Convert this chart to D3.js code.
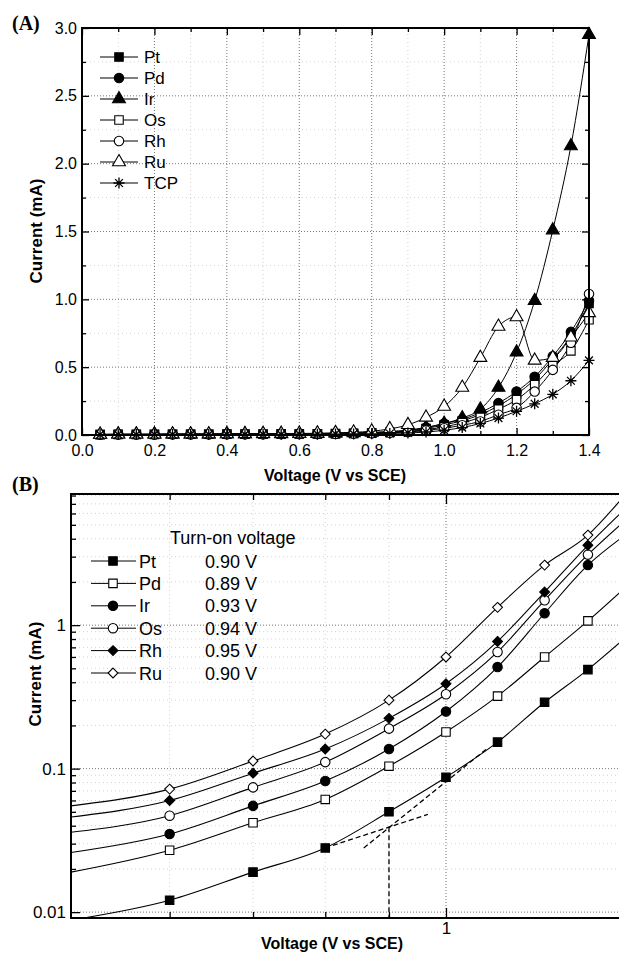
<!DOCTYPE html>
<html>
<head>
<meta charset="utf-8">
<script src="https://cdn.jsdelivr.net/npm/d3@7"></script>
<style>
  body { margin: 0; background: #fff; }
  svg { display: block; font-family: "Liberation Sans", Arial, sans-serif; }
  .grid-major line { stroke: #777; stroke-dasharray: 1,2; }
  .grid-minor line { stroke: #d2d2d2; stroke-dasharray: 1,3; }
  .axis path { display: none; }
  .axis line { stroke: #000; stroke-width: 1.3; }
</style>
</head>
<body>
<script>

// ---- panel A data (linear) ----
var voltA = [0.05, 0.10, 0.15, 0.20, 0.25, 0.30, 0.35, 0.40, 0.45, 0.50, 0.55, 0.60, 0.65, 0.70,
             0.75, 0.80, 0.85, 0.90, 0.95, 1.00, 1.05, 1.10, 1.15, 1.20, 1.25, 1.30, 1.35, 1.40];
var ptA  = [0.004,0.005,0.005,0.005,0.006,0.006,0.006,0.007,0.007,0.007,0.008,0.008,0.009,0.010,0.012,0.015,0.020,0.030,0.048,0.075,0.105,0.150,0.215,0.300,0.410,0.560,0.730,0.970];
var pdA  = [0.004,0.005,0.005,0.005,0.006,0.006,0.006,0.007,0.007,0.008,0.008,0.009,0.010,0.012,0.014,0.018,0.024,0.035,0.055,0.085,0.115,0.165,0.235,0.320,0.430,0.580,0.760,0.990];
var irA  = [0.004,0.005,0.005,0.005,0.006,0.006,0.006,0.007,0.007,0.008,0.008,0.009,0.010,0.012,0.014,0.018,0.025,0.035,0.055,0.085,0.125,0.190,0.350,0.610,0.990,1.510,2.130,2.950];
var osA  = [0.003,0.004,0.004,0.004,0.005,0.005,0.005,0.006,0.006,0.006,0.007,0.007,0.008,0.009,0.011,0.014,0.018,0.026,0.040,0.060,0.090,0.130,0.190,0.260,0.370,0.510,0.620,0.850];
var rhA  = [0.003,0.004,0.004,0.004,0.005,0.005,0.005,0.006,0.006,0.006,0.007,0.007,0.008,0.009,0.010,0.012,0.016,0.022,0.033,0.050,0.072,0.100,0.150,0.200,0.320,0.480,0.680,1.040];
var ruA  = [0.004,0.005,0.005,0.005,0.006,0.006,0.006,0.007,0.008,0.009,0.010,0.011,0.013,0.016,0.020,0.028,0.045,0.075,0.130,0.210,0.350,0.570,0.800,0.870,0.550,0.570,0.720,0.900];
var tcpA = [0.003,0.003,0.003,0.004,0.004,0.004,0.004,0.005,0.005,0.005,0.005,0.006,0.006,0.007,0.008,0.009,0.011,0.015,0.022,0.035,0.055,0.085,0.125,0.175,0.230,0.300,0.400,0.550];

var namesA   = ["Pt", "Pd", "Ir", "Os", "Rh", "Ru", "TCP"];
var markersA = ["squareF", "circleF", "triangleF", "squareO", "circleO", "triangleO", "star"];
var valuesA  = [ptA, pdA, irA, osA, rhA, ruA, tcpA];
var xTicksA  = [0.0, 0.2, 0.4, 0.6, 0.8, 1.0, 1.2, 1.4];
var yTicksA  = [0.0, 0.5, 1.0, 1.5, 2.0, 2.5, 3.0];

// ---- panel B data (log-log) ----
var voltB = [0.5, 0.6, 0.7, 0.8, 0.9, 1.0, 1.1, 1.2, 1.3, 1.38];
var ptB = [0.0088, 0.0121, 0.019, 0.028, 0.050, 0.087, 0.153, 0.29, 0.49, 0.76];
var pdB = [0.019, 0.027, 0.042, 0.061, 0.104, 0.18, 0.32, 0.60, 1.07, 1.7];
var irB = [0.026, 0.035, 0.055, 0.082, 0.137, 0.25, 0.51, 1.21, 2.62, 4.0];
var osB = [0.036, 0.047, 0.074, 0.111, 0.19, 0.33, 0.65, 1.49, 3.1, 5.0];
var rhB = [0.046, 0.060, 0.093, 0.137, 0.224, 0.39, 0.77, 1.7, 3.6, 6.0];
var ruB = [0.055, 0.072, 0.113, 0.174, 0.30, 0.60, 1.33, 2.62, 4.24, 7.4];

var namesB   = ["Pt", "Pd", "Ir", "Os", "Rh", "Ru"];
var markersB = ["squareF", "squareO", "circleF", "circleO", "diamondF", "diamondO"];
var valuesB  = [ptB, pdB, irB, osB, rhB, ruB];
var turnOnB  = ["0.90 V", "0.89 V", "0.93 V", "0.94 V", "0.95 V", "0.90 V"];
var yMajorB  = [0.01, 0.1, 1];
var xMinorB  = [0.6, 0.7, 0.8, 0.9];

// tangent construction for Pt onset
var tangentLow  = [[0.8, 0.028], [0.967, 0.048]];
var tangentHigh = [[0.859, 0.028], [1.08, 0.139]];
var onsetLine   = [[0.9, 0.039], [0.9, 0.0091]];


var W = 619, H = 955;
var svg = d3.select("body").append("svg").attr("width", W).attr("height", H);
svg.append("rect").attr("width", W).attr("height", H).attr("fill", "#fff");

var defs = svg.append("defs");

// marker shapes
function markerPath(kind) {
  var base = kind.slice(0, -1);
  if (kind === "star") {
    var r = 5.5, d = r * 0.707;
    return `M${-r},0L${r},0M0,${-r}L0,${r}M${-d},${-d}L${d},${d}M${-d},${d}L${d},${-d}`;
  }
  var type = { square: d3.symbolSquare, circle: d3.symbolCircle, triangle: d3.symbolTriangle,
               diamond: d3.symbolDiamond2 || d3.symbolDiamond }[base];
  var size = { square: 72, circle: 70, triangle: 72, diamond: 62 }[base];
  return d3.symbol().type(type).size(size)();
}

function drawMarker(g, kind, x, y) {
  var filled = kind.slice(-1) === "F";
  var p = g.append("path")
    .attr("transform", `translate(${x},${y})`)
    .attr("d", markerPath(kind))
    .attr("stroke", "#000")
    .attr("stroke-width", kind === "star" ? 1.3 : 1.1);
  if (kind === "star") p.attr("fill", "none");
  else p.attr("fill", filled ? "#000" : "#fff");
}

function addClip(id, x0, y0, w, h) {
  defs.append("clipPath").attr("id", id)
    .append("rect").attr("x", x0).attr("y", y0).attr("width", w).attr("height", h);
}

// ================= PANEL A =================
var xA = d3.scaleLinear().domain([0, 1.4]).range([82, 589]);
var yA = d3.scaleLinear().domain([0, 3]).range([435, 28]);
addClip("clipA", 82, 28, 507, 407);

var gA = svg.append("g");

// grids
var minorXA = d3.range(1, 14, 2).map(d => d / 10);
var minorYA = [0.25, 0.75, 1.25, 1.75, 2.25, 2.75];
gA.append("g").attr("class", "grid-minor")
  .selectAll("line.v").data(minorXA).join("line")
  .attr("x1", d => xA(d)).attr("x2", d => xA(d)).attr("y1", yA(0)).attr("y2", yA(3));
gA.append("g").attr("class", "grid-minor")
  .selectAll("line.h").data(minorYA).join("line")
  .attr("y1", d => yA(d)).attr("y2", d => yA(d)).attr("x1", xA(0)).attr("x2", xA(1.4));
gA.append("g").attr("class", "grid-major")
  .selectAll("line").data(xTicksA.slice(1, -1)).join("line")
  .attr("x1", d => xA(d)).attr("x2", d => xA(d)).attr("y1", yA(0)).attr("y2", yA(3));
gA.append("g").attr("class", "grid-major")
  .selectAll("line").data(yTicksA.slice(1, -1)).join("line")
  .attr("y1", d => yA(d)).attr("y2", d => yA(d)).attr("x1", xA(0)).attr("x2", xA(1.4));

// curves
var lineA = d3.line().x(d => xA(d[0])).y(d => yA(d[1])).curve(d3.curveMonotoneX);
var plotA = gA.append("g").attr("clip-path", "url(#clipA)");
valuesA.forEach(function (vals, i) {
  var pts = voltA.map((v, k) => [v, vals[k]]);
  plotA.append("path").attr("d", lineA(pts))
    .attr("fill", "none").attr("stroke", "#000").attr("stroke-width", 1);
});
valuesA.forEach(function (vals, i) {
  voltA.forEach(function (v, k) {
    drawMarker(gA, markersA[i], xA(v), yA(vals[k]));
  });
});

// axes (ticks point inward)
function styleAxis(sel, fs) {
  sel.attr("class", "axis").selectAll("text")
    .attr("font-size", fs).attr("fill", "#000")
    .attr("font-family", '"Liberation Sans", Arial, sans-serif');
}
gA.append("g").attr("transform", "translate(0,435)")
  .call(d3.axisBottom(xA).tickValues(minorXA).tickSize(-4).tickFormat(""))
  .call(styleAxis, 16);
gA.append("g").attr("transform", "translate(0,435)")
  .call(d3.axisBottom(xA).tickValues(xTicksA).tickSize(-7).tickPadding(10).tickFormat(d3.format(".1f")))
  .call(styleAxis, 16);
gA.append("g").attr("transform", "translate(0,28)")
  .call(d3.axisTop(xA).tickValues(minorXA).tickSize(-4).tickFormat(""))
  .call(styleAxis, 16);
gA.append("g").attr("transform", "translate(0,28)")
  .call(d3.axisTop(xA).tickValues(xTicksA).tickSize(-7).tickFormat(""))
  .call(styleAxis, 16);
gA.append("g").attr("transform", "translate(82,0)")
  .call(d3.axisLeft(yA).tickValues(minorYA).tickSize(-4).tickFormat(""))
  .call(styleAxis, 16);
gA.append("g").attr("transform", "translate(82,0)")
  .call(d3.axisLeft(yA).tickValues(yTicksA).tickSize(-7).tickPadding(5).tickFormat(d3.format(".1f")))
  .call(styleAxis, 16);
gA.append("g").attr("transform", "translate(589,0)")
  .call(d3.axisRight(yA).tickValues(minorYA).tickSize(-4).tickFormat(""))
  .call(styleAxis, 16);
gA.append("g").attr("transform", "translate(589,0)")
  .call(d3.axisRight(yA).tickValues(yTicksA).tickSize(-7).tickFormat(""))
  .call(styleAxis, 16);

gA.append("rect").attr("x", 82).attr("y", 28).attr("width", 507).attr("height", 407)
  .attr("fill", "none").attr("stroke", "#000").attr("stroke-width", 2);

// legend A
namesA.forEach(function (name, i) {
  var y = 57 + i * 21;
  gA.append("line").attr("x1", 100).attr("x2", 138).attr("y1", y).attr("y2", y)
    .attr("stroke", "#000").attr("stroke-width", 1);
  drawMarker(gA, markersA[i], 119, y);
  gA.append("text").attr("x", 144).attr("y", y + 6).attr("font-size", 17).text(name);
});

// titles A
svg.append("text").attr("x", 12).attr("y", 30)
  .attr("font-family", '"Liberation Serif", "Times New Roman", serif')
  .attr("font-weight", "bold").attr("font-size", 20).text("(A)");
svg.append("text").attr("x", 335).attr("y", 481).attr("text-anchor", "middle")
  .attr("font-weight", "bold").attr("font-size", 16).text("Voltage (V vs SCE)");
svg.append("text").attr("transform", "translate(42,231) rotate(-90)").attr("text-anchor", "middle")
  .attr("font-weight", "bold").attr("font-size", 17).text("Current (mA)");

// ================= PANEL B =================
var xB = d3.scaleLog().domain([0.5, 1.4]).range([71, 628]);
var yB = d3.scaleLog().domain([0.0091, 8.2]).range([918, 494]);
addClip("clipB", 71, 494, 557, 424);

var gB = svg.append("g");
var minorYB = [];
[0.01, 0.1, 1].forEach(function (dec) {
  [2, 3, 4, 5, 6, 7, 8, 9].forEach(function (m) {
    var v = +(dec * m).toPrecision(2);
    if (v <= 8.2) minorYB.push(v);
  });
});

gB.append("g").attr("class", "grid-minor")
  .selectAll("line").data(minorYB).join("line")
  .attr("y1", d => yB(d)).attr("y2", d => yB(d)).attr("x1", 71).attr("x2", 628);
gB.append("g").attr("class", "grid-minor")
  .selectAll("line").data(xMinorB).join("line")
  .attr("x1", d => xB(d)).attr("x2", d => xB(d)).attr("y1", 494).attr("y2", 918);
gB.append("g").attr("class", "grid-major")
  .selectAll("line").data(yMajorB).join("line")
  .attr("y1", d => yB(d)).attr("y2", d => yB(d)).attr("x1", 71).attr("x2", 628);
gB.append("g").attr("class", "grid-major")
  .selectAll("line").data([1]).join("line")
  .attr("x1", d => xB(d)).attr("x2", d => xB(d)).attr("y1", 494).attr("y2", 918);

var lineB = d3.line().x(d => xB(d[0])).y(d => yB(d[1])).curve(d3.curveMonotoneX);
var plotB = gB.append("g").attr("clip-path", "url(#clipB)");
valuesB.forEach(function (vals) {
  var pts = voltB.map((v, k) => [v, vals[k]]);
  plotB.append("path").attr("d", lineB(pts))
    .attr("fill", "none").attr("stroke", "#000").attr("stroke-width", 1.1);
});

// onset construction (dashed)
var lineStraight = d3.line().x(d => xB(d[0])).y(d => yB(d[1]));
[tangentLow, tangentHigh, onsetLine].forEach(function (seg) {
  plotB.append("path").attr("d", lineStraight(seg))
    .attr("fill", "none").attr("stroke", "#000").attr("stroke-width", 1.3)
    .attr("stroke-dasharray", "5,3");
});

valuesB.forEach(function (vals, i) {
  voltB.forEach(function (v, k) {
    if (k === 0 || k === voltB.length - 1) return;
    drawMarker(gB, markersB[i], xB(v), yB(vals[k]));
  });
});

// axes B
gB.append("g").attr("transform", "translate(0,918)")
  .call(d3.axisBottom(xB).tickValues(xMinorB).tickSize(-6).tickFormat(""))
  .call(styleAxis, 17);
gB.append("g").attr("transform", "translate(0,918)")
  .call(d3.axisBottom(xB).tickValues([1]).tickSize(-10).tickPadding(4).tickFormat(d3.format("d")))
  .call(styleAxis, 17);
gB.append("g").attr("transform", "translate(0,494)")
  .call(d3.axisTop(xB).tickValues(xMinorB).tickSize(-6).tickFormat(""))
  .call(styleAxis, 17);
gB.append("g").attr("transform", "translate(0,494)")
  .call(d3.axisTop(xB).tickValues([1]).tickSize(-10).tickFormat(""))
  .call(styleAxis, 17);
gB.append("g").attr("transform", "translate(71,0)")
  .call(d3.axisLeft(yB).tickValues(minorYB).tickSize(-5).tickFormat(""))
  .call(styleAxis, 17);
gB.append("g").attr("transform", "translate(71,0)")
  .call(d3.axisLeft(yB).tickValues(yMajorB).tickSize(-9).tickPadding(5).tickFormat(d => String(d)))
  .call(styleAxis, 17);

gB.append("rect").attr("x", 71).attr("y", 494).attr("width", 557).attr("height", 424)
  .attr("fill", "none").attr("stroke", "#000").attr("stroke-width", 2);

// legend B
gB.append("text").attr("x", 170).attr("y", 544).attr("font-size", 18).text("Turn-on voltage");
namesB.forEach(function (name, i) {
  var y = 561 + i * 22.4;
  gB.append("line").attr("x1", 91).attr("x2", 136).attr("y1", y).attr("y2", y)
    .attr("stroke", "#000").attr("stroke-width", 1);
  drawMarker(gB, markersB[i], 113, y);
  gB.append("text").attr("x", 139).attr("y", y + 6.5).attr("font-size", 18).text(name);
  gB.append("text").attr("x", 205).attr("y", y + 6.5).attr("font-size", 18).text(turnOnB[i]);
});

// titles B
svg.append("text").attr("x", 12).attr("y", 491)
  .attr("font-family", '"Liberation Serif", "Times New Roman", serif')
  .attr("font-weight", "bold").attr("font-size", 20).text("(B)");
svg.append("text").attr("x", 332).attr("y", 949).attr("text-anchor", "middle")
  .attr("font-weight", "bold").attr("font-size", 16).text("Voltage (V vs SCE)");
svg.append("text").attr("transform", "translate(41,674) rotate(-90)").attr("text-anchor", "middle")
  .attr("font-weight", "bold").attr("font-size", 17).text("Current (mA)");

</script>
</body>
</html>
